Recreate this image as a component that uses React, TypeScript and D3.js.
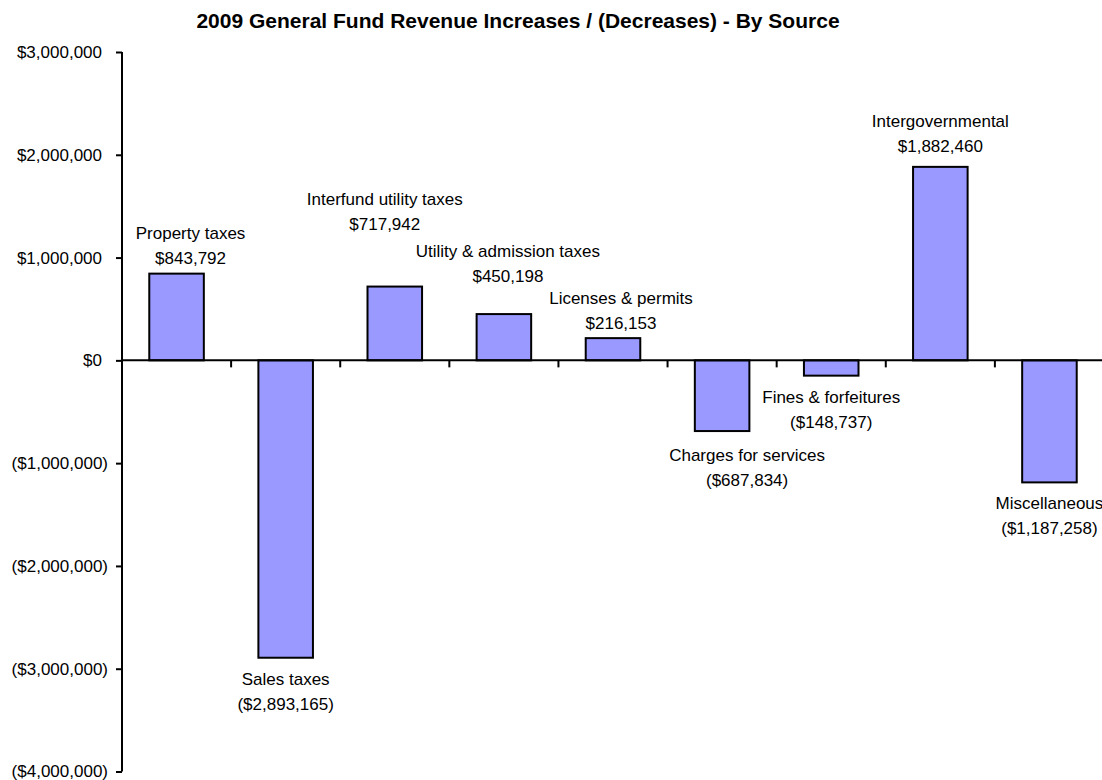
import React, { useEffect, useRef } from 'react';
import * as d3 from 'd3';

// revenue change by source, 2009
const sources = [
  'Property taxes',
  'Sales taxes',
  'Interfund utility taxes',
  'Utility & admission taxes',
  'Licenses & permits',
  'Charges for services',
  'Fines & forfeitures',
  'Intergovernmental',
  'Miscellaneous',
];
const changes = [843792, -2893165, 717942, 450198, 216153, -687834, -148737, 1882460, -1187258];
const yTicks = [3000000, 2000000, 1000000, 0, -1000000, -2000000, -3000000, -4000000];

// data labels were dragged around by hand in the original, offsets in px from the bar end
const labelShift = [
  [14, -41], [0, 21], [-10, -88], [4, -63], [8, -40],
  [25, 24], [0, 21], [0, -46], [0, 21],
];

const FONT = 'Arial, "Liberation Sans", sans-serif';

const money = (v: number) => {
  const s = d3.format('$,')(Math.abs(v));
  return v < 0 ? `(${s})` : s;
};

const App = () => {
  const svgRef = useRef<SVGSVGElement>(null);

  useEffect(() => {
    const width = 1102, height = 780;
    const svg = d3.select(svgRef.current)
      .attr('width', width)
      .attr('height', height);
    svg.selectAll('*').remove();

    const x = d3.scaleBand()
      .domain(sources)
      .range([122, 1104])
      .paddingInner(0.5)
      .paddingOuter(0.25);

    const y = d3.scaleLinear()
      .domain([-4000000, 3000000])
      .range([771.5, 52]);

    svg.append('text')
      .attr('x', 518)
      .attr('y', 28)
      .attr('text-anchor', 'middle')
      .style('font-family', FONT)
      .style('font-size', '21px')
      .style('font-weight', 'bold')
      .text('2009 General Fund Revenue Increases / (Decreases) - By Source');

    // bars
    svg.selectAll('.bar')
      .data(changes)
      .enter().append('rect')
      .attr('x', (d, i) => x(sources[i])!)
      .attr('y', d => y(Math.max(0, d)))
      .attr('width', x.bandwidth())
      .attr('height', d => Math.abs(y(d) - y(0)))
      .attr('fill', '#9999ff')
      .attr('stroke', '#000')
      .attr('stroke-width', 2);

    // y axis
    const yAxis = svg.append('g')
      .attr('transform', 'translate(122,0)')
      .call(d3.axisLeft(y).tickValues(yTicks).tickSize(6).tickPadding(14).tickFormat(d => money(+d)));
    yAxis.select('.domain').attr('stroke-width', 2).attr('d', `M0,${y(3000000)}V${y(-4000000)}`);
    yAxis.selectAll('.tick line').attr('stroke-width', 2);
    // excel keeps room for the closing paren on positive numbers
    yAxis.selectAll<SVGTextElement, number>('text')
      .attr('dx', d => (d < 0 ? 6 : 0))
      .style('font-family', FONT)
      .style('font-size', '17px')
      .attr('fill', '#000');

    // x axis on zero line, ticks between categories
    const step = x.step();
    const bounds = d3.range(1, sources.length + 1).map(i => 122 + i * step);
    svg.append('line')
      .attr('x1', 122).attr('x2', 1104)
      .attr('y1', y(0)).attr('y2', y(0))
      .attr('stroke', '#000').attr('stroke-width', 2);
    svg.selectAll('.xtick')
      .data(bounds)
      .enter().append('line')
      .attr('x1', d => d).attr('x2', d => d)
      .attr('y1', y(0)).attr('y2', y(0) + 7)
      .attr('stroke', '#000').attr('stroke-width', 2);

    // data labels: name on top, amount below
    const labels = svg.selectAll('.lbl')
      .data(changes)
      .enter().append('text')
      .attr('text-anchor', 'middle')
      .style('font-family', FONT)
      .style('font-size', '17px')
      .attr('fill', '#000')
      .attr('transform', (d, i) => {
        const cx = x(sources[i])! + x.bandwidth() / 2 + labelShift[i][0];
        const cy = y(d) + labelShift[i][1];
        return `translate(${cx},${cy})`;
      });
    labels.append('tspan').attr('x', 0).attr('dy', '0.35em').text((d, i) => sources[i]);
    labels.append('tspan').attr('x', 0).attr('dy', 25).text(d => money(d));
  }, []);

  return (
    <svg ref={svgRef} style={{ position: 'absolute', left: 0, top: 0, background: '#fff' }}></svg>
  );
};

export default App;
